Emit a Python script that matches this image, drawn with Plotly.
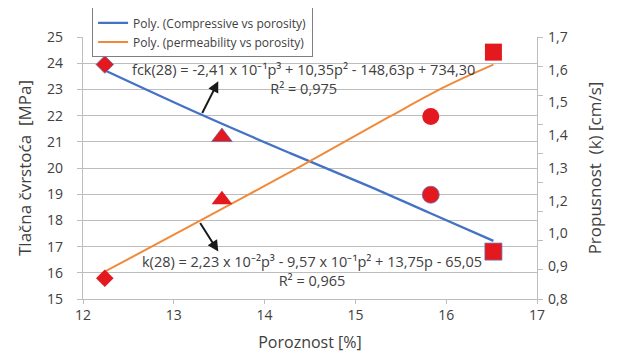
import numpy as np
import plotly.graph_objects as go

# ---- data ----
porosity = [12.24, 13.53, 15.83, 16.52]
compressive = [23.95, 21.18, 18.98, 16.81]          # MPa, left axis
permeability = [0.871, 1.141, 1.427, 1.648]        # cm/s, right axis
marker_symbols = ["diamond", "triangle-up", "circle", "square"]

# trend lines, points
trend_c_x = [12.22, 13.30, 14.28, 15.16, 15.82, 16.52]
trend_c_y = [23.76, 22.04, 20.57, 19.29, 18.28, 17.22]
trend_k_x = [12.24, 13.29, 14.39, 15.38, 16.00, 16.52]
trend_k_y = [0.894, 1.069, 1.255, 1.427, 1.531, 1.605]

x_ticks = [12, 13, 14, 15, 16, 17]
left_ticks = list(range(15, 26))
right_tick_marks = [0.8, 0.9, 1.0, 1.1, 1.2, 1.3, 1.4, 1.5, 1.6, 1.7]
right_tick_text = ["0,8", "0,9", "1,0", "1,2", "1,3", "1,4", "1,5", "1,6", "1,7"]

eq_c = "fck(28) = -2,41 x 10⁻¹p³ + 10,35p² - 148,63p + 734,30<br>R² = 0,975"
eq_k = "k(28) = 2,23 x 10⁻²p³ - 9,57 x 10⁻¹p² + 13,75p - 65,05<br>R² = 0,965"

BLUE = "#4472C4"
ORANGE = "#F08A3A"
RED = "#E3191F"
GRID = "#BDBDBD"
TXT = "#404040"
FONT = "Open Sans"

fig = go.Figure()
fig.add_trace(go.Scatter(x=trend_c_x, y=trend_c_y, mode="lines", line=dict(color=BLUE, width=2.3, shape="spline"),
                         name="Poly. (Compressive vs porosity)", yaxis="y"))
fig.add_trace(go.Scatter(x=trend_k_x, y=trend_k_y, mode="lines", line=dict(color=ORANGE, width=2, shape="spline"),
                         name="Poly. (permeability vs porosity)", yaxis="y2"))
fig.add_trace(go.Scatter(x=porosity, y=compressive, mode="markers", showlegend=False, yaxis="y",
                         marker=dict(symbol=marker_symbols, size=[13.5, 18, 17, 17], color=RED, opacity=1,
                                     line=dict(color="#6a6fb0", width=0.8))))
fig.add_trace(go.Scatter(x=porosity, y=permeability, mode="markers", showlegend=False, yaxis="y2",
                         marker=dict(symbol=marker_symbols, size=[13.5, 18, 17, 17], color=RED, opacity=1,
                                     line=dict(color=RED, width=0))))
# dummy trace so the label axis is drawn
fig.add_trace(go.Scatter(x=[None], y=[None], yaxis="y3", showlegend=False, hoverinfo="skip"))

# page body has an 8px margin, so the figure is 8px smaller and margins shifted
L, R, T, B = 75, 81, 29, 54
fig.update_layout(
    width=610, height=345,
    margin=dict(l=L, r=R, t=T, b=B, autoexpand=False),
    paper_bgcolor="white", plot_bgcolor="white",
    font=dict(family=FONT, color=TXT, size=13),
    xaxis=dict(range=[12, 17], tickvals=x_ticks, showgrid=False, zeroline=False,
               showline=True, linecolor=GRID, linewidth=1.3, ticks="outside", ticklen=4, tickcolor=GRID,
               tickfont=dict(size=14, color=TXT), ticklabelstandoff=-1,
               title=dict(text="Poroznost [%]", font=dict(size=16, color=TXT), standoff=14)),
    yaxis=dict(range=[15, 25], tickvals=left_ticks, showgrid=True, gridcolor=GRID, gridwidth=1.2,
               zeroline=False, showline=True, linecolor=GRID, linewidth=1.3, ticks="outside", ticklen=5,
               tickcolor=GRID, tickfont=dict(size=14, color=TXT), ticklabelstandoff=11,
               title=dict(text="Tlačna čvrstoća  [MPa]", font=dict(size=17, color=TXT), standoff=11)),
    yaxis2=dict(range=[0.8, 1.7], overlaying="y", side="right", anchor="x", tickvals=right_tick_marks,
                showticklabels=False, showgrid=False, zeroline=False, showline=True, linecolor=GRID,
                linewidth=1.3, ticks="outside", ticklen=5, tickcolor=GRID),
    yaxis3=dict(range=[0.8, 1.7], overlaying="y", side="right", anchor="x",
                tickvals=list(np.linspace(0.8, 1.7, len(right_tick_text))), ticktext=right_tick_text,
                showgrid=False, zeroline=False, showline=False, ticks="",
                tickfont=dict(size=14, color=TXT), ticklabelstandoff=10,
                title=dict(text="Propusnost  (k) [cm/s]", font=dict(size=17, color=TXT), standoff=22)),
    legend=dict(x=0.02, y=1.113, xanchor="left", yanchor="top", bgcolor="white",
                bordercolor="#7f7f7f", borderwidth=1, font=dict(size=12, color=TXT),
                tracegroupgap=0, itemwidth=30),
)

fig.add_annotation(x=14.43, y=23.41, xref="x", yref="y", text=eq_c, showarrow=False,
                   font=dict(size=14.5, color=TXT), align="center", xanchor="center", yanchor="middle")
fig.add_annotation(x=14.52, y=16.08, xref="x", yref="y", text=eq_k, showarrow=False,
                   font=dict(size=14.5, color=TXT), align="center", xanchor="center", yanchor="middle")

arrow_c = dict(tail=(13.305, 22.04), head=(13.49, 23.31))
arrow_k = dict(tail=(13.28, 17.96), head=(13.49, 16.81))
for a in (arrow_c, arrow_k):
    fig.add_annotation(x=a["head"][0], y=a["head"][1], ax=a["tail"][0], ay=a["tail"][1],
                       xref="x", yref="y", axref="x", ayref="y", text="", showarrow=True,
                       arrowhead=2, arrowsize=1.1, arrowwidth=2, arrowcolor="#1a1a1a")

fig.write_html("out.html")
